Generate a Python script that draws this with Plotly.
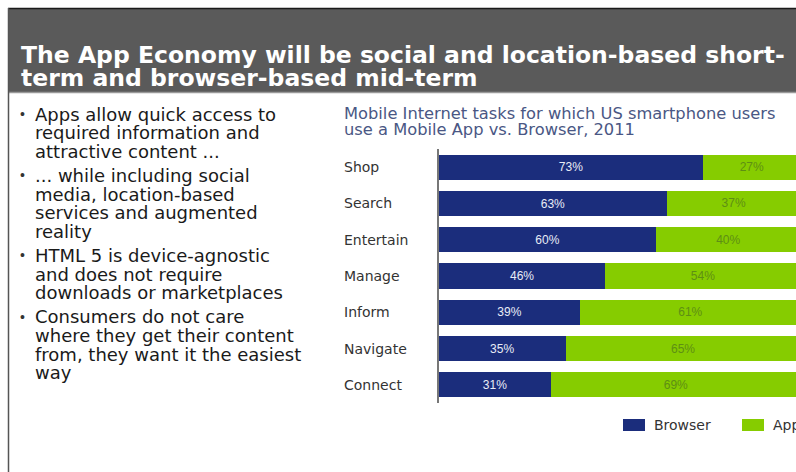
import plotly.graph_objects as go

# Survey data: share of US smartphone users by task, 2011
tasks = ["Shop", "Search", "Entertain", "Manage", "Inform", "Navigate", "Connect"]
browser_pct = [73, 63, 60, 46, 39, 35, 31]
app_pct = [27, 37, 40, 54, 61, 65, 69]

headline = ["The App Economy will be social and location-based short-",
            "term and browser-based mid-term"]
bullets = [
    ["Apps allow quick access to", "required information and", "attractive content ..."],
    ["... while including social", "media, location-based", "services and augmented", "reality"],
    ["HTML 5 is device-agnostic", "and does not require", "downloads or marketplaces"],
    ["Consumers do not care", "where they get their content", "from, they want it the easiest", "way"],
]
chart_title = ["Mobile Internet tasks for which US smartphone users",
               "use a Mobile App vs. Browser, 2011"]

W, H = 796, 472
NAVY = "#1b2d7c"
LIME = "#86cc00"
FONT = "Liberation Sans, Arial, sans-serif"
WIDE = "DejaVu Sans, Verdana, sans-serif"


def px(x):
    return x / W


def py(y):
    return 1 - y / H


fig = go.Figure()
fig.add_trace(go.Bar(
    y=tasks, x=browser_pct, orientation="h", name="Browser",
    marker=dict(color=NAVY, line=dict(width=0)),
    text=[f"{v}%" for v in browser_pct], textposition="inside",
    insidetextanchor="middle",
    textfont=dict(color="#e8ecf6", size=13, family=FONT),
))
fig.add_trace(go.Bar(
    y=tasks, x=app_pct, orientation="h", name="App",
    marker=dict(color=LIME, line=dict(width=0)),
    text=[f"{v}%" for v in app_pct], textposition="inside",
    insidetextanchor="middle",
    textfont=dict(color="#5e8f14", size=12, family=FONT),
))

annotations = []
shapes = []

# Headline bar
shapes.append(dict(type="rect", xref="paper", yref="paper",
                   x0=px(9), x1=1, y0=py(92), y1=py(9),
                   fillcolor="#5a5a5a", line=dict(width=0), layer="below"))
shapes.append(dict(type="line", xref="paper", yref="paper",
                   x0=px(9), x1=1, y0=py(92.5), y1=py(92.5),
                   line=dict(color="#9a9a9a", width=1.5)))
shapes.append(dict(type="line", xref="paper", yref="paper",
                   x0=px(8), x1=1, y0=py(8.5), y1=py(8.5),
                   line=dict(color="#1a1a1a", width=1.5)))
shapes.append(dict(type="line", xref="paper", yref="paper",
                   x0=px(8.5), x1=px(8.5), y0=0, y1=py(8),
                   line=dict(color="#555555", width=1.5)))

for i, line in enumerate(headline):
    annotations.append(dict(xref="paper", yref="paper", x=px(19), y=py(55 + 23 * i),
                            xanchor="left", yanchor="middle", showarrow=False,
                            text=f"<b>{line}</b>",
                            font=dict(color="white", size=23.5, family=WIDE)))

# Bullet list on the left
y = 114
for group in bullets:
    annotations.append(dict(xref="paper", yref="paper", x=px(18), y=py(y),
                            xanchor="left", yanchor="middle", showarrow=False,
                            text="•", font=dict(color="#333333", size=14, family=FONT)))
    for line in group:
        annotations.append(dict(xref="paper", yref="paper", x=px(33), y=py(y),
                                xanchor="left", yanchor="middle", showarrow=False,
                                text=line, font=dict(color="#1a1a1a", size=18, family=WIDE)))
        y += 18.7
    y += 5.3

# Chart title
for i, line in enumerate(chart_title):
    annotations.append(dict(xref="paper", yref="paper", x=px(342), y=py(113 + 16 * i),
                            xanchor="left", yanchor="middle", showarrow=False,
                            text=line, font=dict(color="#4a5784", size=16.3, family=WIDE)))

# Category labels, left aligned
for t in tasks:
    annotations.append(dict(xref="paper", yref="y", x=px(342), y=t,
                            xanchor="left", yanchor="middle", showarrow=False,
                            text=t, font=dict(color="#333333", size=14, family=WIDE)))

# Legend
legend_items = [("Browser", NAVY, 623), ("App", LIME, 742)]
for name, color, x0 in legend_items:
    shapes.append(dict(type="rect", xref="paper", yref="paper",
                       x0=px(x0), x1=px(x0 + 22), y0=py(431), y1=py(419),
                       fillcolor=color, line=dict(width=0)))
    annotations.append(dict(xref="paper", yref="paper", x=px(x0 + 29), y=py(425),
                            xanchor="left", yanchor="middle", showarrow=False,
                            text=name, font=dict(color="#333333", size=14, family=WIDE)))

fig.update_layout(
    width=W, height=H,
    margin=dict(l=0, r=0, t=0, b=0),
    paper_bgcolor="white", plot_bgcolor="white",
    barmode="stack", bargap=0.31,
    showlegend=False,
    xaxis=dict(domain=[px(439), 1], range=[0, 98.7], visible=False, fixedrange=True),
    yaxis=dict(domain=[py(403), py(149)], autorange="reversed",
               showticklabels=False, showgrid=False, zeroline=False,
               showline=True, linecolor="#777777", linewidth=2, ticks=""),
    annotations=annotations, shapes=shapes,
    uniformtext=dict(mode="show", minsize=10),
)

fig.write_html("out.html", config={"displayModeBar": False})
